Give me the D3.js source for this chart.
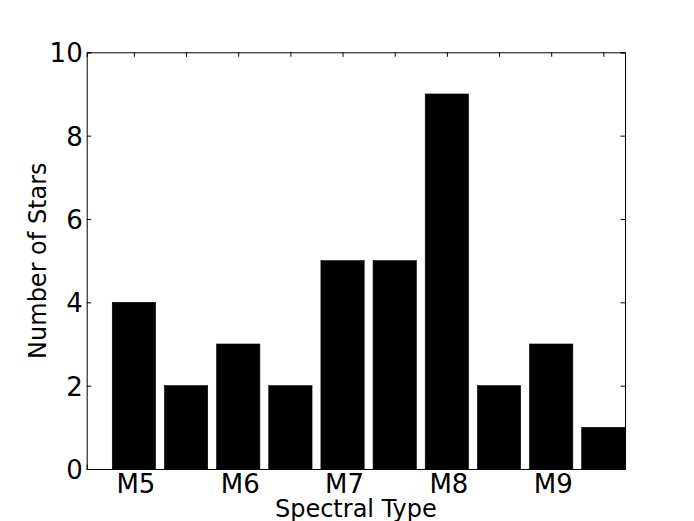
<!DOCTYPE html>
<html><head><meta charset="utf-8">
<script src="https://cdn.jsdelivr.net/npm/d3@7"></script>
<style>body{margin:0;background:#fff}svg{display:block}text{font-family:"DejaVu Sans",sans-serif}</style>
</head><body><svg id="c" width="694" height="521"></svg>
<script>
const categories = ["M5","","M6","","M7","","M8","","M9",""];
const counts = [4,2,3,2,5,5,9,2,3,1];
const yTicks = [0,2,4,6,8,10];
const xLabel = "Spectral Type";
const yLabel = "Number of Stars";

const svg = d3.select("#c");
const L = 86.7, R = 625, T = 52.3, B = 469;
const barW = 0.83;
const x = d3.scaleLinear().domain([-0.49, 9.83]).range([L, R]);
const y = d3.scaleLinear().domain([0, 10]).range([B, T]);

svg.append("rect").attr("x",0).attr("y",0).attr("width",694).attr("height",521).attr("fill","#fff");

svg.selectAll("rect.bar").data(counts).enter().append("rect")
  .attr("class","bar")
  .attr("x",(d,i)=>x(i))
  .attr("width",x(barW)-x(0))
  .attr("y",d=>y(d))
  .attr("height",d=>y(0)-y(d))
  .attr("fill","#000")
  .attr("stroke","#000").attr("stroke-width",0.6);

const g = svg.append("g");
const tickPos = counts.map((d,i)=>i+barW/2);
const xb = d3.axisBottom(x).tickValues(tickPos).tickSize(-4.5).tickPadding(8)
  .tickFormat((d,i)=>categories[i]);
const gb = g.append("g").attr("transform",`translate(0,${B})`).call(xb);
const xt = d3.axisTop(x).tickValues(tickPos).tickSize(-4.5).tickFormat("");
const gt = g.append("g").attr("transform",`translate(0,${T})`).call(xt);
const yl = d3.axisLeft(y).tickValues(yTicks).tickSize(-4.5).tickPadding(4).tickFormat(d3.format("d"));
const gl = g.append("g").attr("transform",`translate(${L},0)`).call(yl);
const yr = d3.axisRight(y).tickValues(yTicks).tickSize(-4.5).tickFormat("");
const gr = g.append("g").attr("transform",`translate(${R},0)`).call(yr);

[gb,gt,gl,gr].forEach(a=>{
  a.select(".domain").attr("stroke","#000").attr("stroke-width",1);
  a.selectAll(".tick line").attr("stroke","#000").attr("stroke-width",1);
  a.selectAll("text").attr("font-size",26).attr("fill","#000").attr("font-family","DejaVu Sans");
});
gb.selectAll(".tick text").attr("dy",null).attr("y",null)
  .attr("transform","translate(1.5,24)");
gl.selectAll(".tick text").attr("dy","0.36em");

svg.append("text").attr("x",(L+R)/2).attr("y",517).attr("text-anchor","middle")
  .attr("font-size",24).text(xLabel);
svg.append("text").attr("transform",`translate(46,${(T+B)/2}) rotate(-90)`)
  .attr("text-anchor","middle").attr("font-size",24).text(yLabel);
</script></body></html>
